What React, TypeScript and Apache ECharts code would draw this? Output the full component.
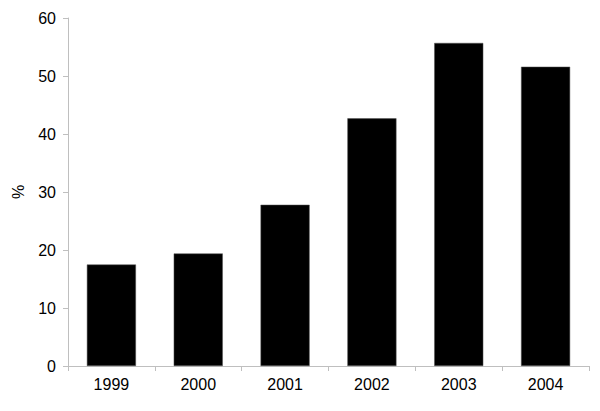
import React, { useEffect, useRef } from "react";
import * as echarts from "echarts";

const categories = ["1999", "2000", "2001", "2002", "2003", "2004"];
const values = [17.5, 19.4, 27.8, 42.7, 55.7, 51.6];
const yTicks = { min: 0, max: 60, interval: 10 };

export default function App() {
  const ref = useRef<HTMLDivElement>(null);
  useEffect(() => {
    if (!ref.current) return;
    const chart = echarts.init(ref.current, null, { renderer: "svg" });
    const axisColor = "#bfbfbf";
    const font = "Liberation Sans, Arial, sans-serif";
    chart.setOption({
      animation: false,
      backgroundColor: "#ffffff",
      grid: { left: 68, right: 11, top: 18, bottom: 45, containLabel: false },
      xAxis: {
        type: "category",
        data: categories,
        boundaryGap: true,
        axisLine: { show: true, lineStyle: { color: axisColor, width: 1 } },
        axisTick: { show: true, length: 5, lineStyle: { color: axisColor } },
        axisLabel: { color: "#000", fontSize: 16, fontFamily: font, margin: 10 },
        splitLine: { show: false },
      },
      yAxis: {
        type: "value",
        min: yTicks.min,
        max: yTicks.max,
        interval: yTicks.interval,
        name: "%",
        nameLocation: "middle",
        nameGap: 42,
        nameRotate: 90,
        nameTextStyle: { color: "#000", fontSize: 16, fontFamily: font },
        axisLine: { show: true, lineStyle: { color: axisColor, width: 1 } },
        axisTick: { show: true, length: 5, lineStyle: { color: axisColor } },
        axisLabel: { color: "#000", fontSize: 16, fontFamily: font, margin: 12 },
        splitLine: { show: false },
      },
      series: [
        {
          type: "bar",
          data: values,
          barWidth: "56.5%",
          itemStyle: { color: "#000000", borderColor: "#555", borderWidth: 0.5 },
        },
      ],
    });
    return () => chart.dispose();
  }, []);
  return <div ref={ref} style={{ width: 600, height: 411, position: "absolute", left: 0, top: 0 }} />;
}
